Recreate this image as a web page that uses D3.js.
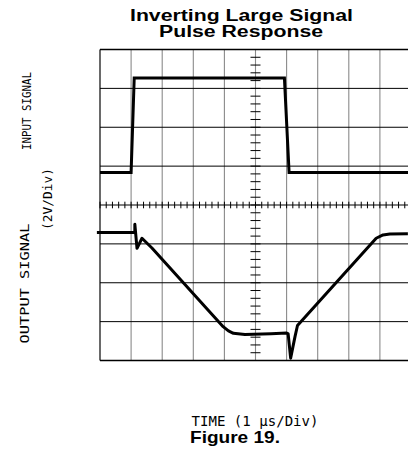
<!DOCTYPE html>
<html>
<head>
<meta charset="utf-8">
<script src="https://cdn.jsdelivr.net/npm/d3@7"></script>
<style>
  html, body { margin: 0; padding: 0; background: #fff; }
  svg { display: block; }
</style>
</head>
<body>
<div id="chart"></div>
<script>
// ---- Data (time in µs, voltage in V; 2 V/div, 1 µs/div) ----
const inputTime  = [0, 1.0, 1.1, 5.93, 6.08, 10];
const inputVolt  = [1.67, 1.67, 6.53, 6.53, 1.67, 1.67];

const outputTime = [-0.1, 1.12, 1.12, 1.19, 1.35, 1.67, 3.96, 4.13, 4.29, 4.66, 5.5, 6.0, 6.05, 6.13, 6.27, 6.35, 8.88, 9.1, 9.32, 9.9];
const outputVolt = [-1.42, -1.42, -0.99, -2.23, -1.71, -2.21, -6.26, -6.48, -6.60, -6.66, -6.62, -6.58, -6.63, -7.88, -6.77, -6.2, -1.71, -1.54, -1.49, -1.48];

const timeDivs  = d3.range(0, 11, 1);       // vertical grid lines
const voltDivs  = d3.range(-8, 10, 2);      // horizontal grid lines
const timeMinor = d3.range(0, 10.01, 0.2);  // minor ticks on centre horizontal axis
const voltMinor = d3.range(-8, 8.01, 0.4);  // minor ticks on centre vertical axis

const titleLines = ["Inverting Large Signal", "Pulse Response"];
const yLabels = ["INPUT SIGNAL", "OUTPUT SIGNAL", "(2V/Div)"];
const xLabel = "TIME (1 \u00b5s/Div)";
const figLabel = "Figure 19.";

// ---- Layout ----
const W = 408, H = 459;
const svg = d3.select("#chart").append("svg").attr("width", W).attr("height", H);

const x = d3.scaleLinear().domain([0, 10]).range([100, 411]);
const y = d3.scaleLinear().domain([-8, 8]).range([360.5, 49.5]);

const g = svg.append("g");

// vertical grid lines (grey)
g.selectAll("line.v").data(timeDivs).join("line")
  .attr("x1", d => x(d)).attr("x2", d => x(d))
  .attr("y1", y(8)).attr("y2", y(-8))
  .attr("stroke", d => d === 0 ? "#444" : "#8a8a8a")
  .attr("stroke-width", d => d === 0 ? 1.6 : 1.1);

// horizontal grid lines (black)
g.selectAll("line.h").data(voltDivs).join("line")
  .attr("x1", x(0)).attr("x2", x(10))
  .attr("y1", d => y(d)).attr("y2", d => y(d))
  .attr("stroke", "#000")
  .attr("stroke-width", d => (d === 8 || d === -8) ? 1.6 : 1);

// centre axes minor ticks
g.selectAll("line.tx").data(timeMinor).join("line")
  .attr("x1", d => x(d)).attr("x2", d => x(d))
  .attr("y1", y(0) - 3.3).attr("y2", y(0) + 3.3)
  .attr("stroke", "#000").attr("stroke-width", 1);

g.selectAll("line.ty").data(voltMinor).join("line")
  .attr("x1", x(5) - 5).attr("x2", x(5) + 5)
  .attr("y1", d => y(d)).attr("y2", d => y(d))
  .attr("stroke", "#000").attr("stroke-width", 1);

// traces
const line = d3.line().x(d => x(d[0])).y(d => y(d[1]));
const inputData = inputTime.map((t, i) => [t, inputVolt[i]]);
const outputData = outputTime.map((t, i) => [t, outputVolt[i]]);

g.append("path").datum(inputData).attr("d", line)
  .attr("fill", "none").attr("stroke", "#000").attr("stroke-width", 3)
  .attr("stroke-linejoin", "miter");

g.append("path").datum(outputData).attr("d", line)
  .attr("fill", "none").attr("stroke", "#000").attr("stroke-width", 3)
  .attr("stroke-linejoin", "round").attr("stroke-linecap", "butt");

// title
const title = svg.append("g").attr("font-family", "Liberation Sans, Arial, sans-serif")
  .attr("font-weight", "bold").attr("text-anchor", "middle").attr("fill", "#000");
title.append("text").attr("x", 241.5).attr("y", 20.5).attr("font-size", 16)
  .attr("textLength", 223).attr("lengthAdjust", "spacingAndGlyphs").text(titleLines[0]);
title.append("text").attr("x", 241).attr("y", 36.5).attr("font-size", 16)
  .attr("textLength", 164).attr("lengthAdjust", "spacingAndGlyphs").text(titleLines[1]);

// axis labels
const mono = "DejaVu Sans Mono, monospace";
const lab = svg.append("g").attr("font-family", mono)
  .attr("fill", "#000").attr("text-anchor", "middle");
lab.append("text").attr("transform", "translate(30.5,111) rotate(-90)")
  .attr("font-size", 12).attr("textLength", 78).attr("lengthAdjust", "spacingAndGlyphs")
  .text(yLabels[0]);
lab.append("text").attr("transform", "translate(28.5,283.5) rotate(-90)")
  .attr("font-size", 12.5).attr("textLength", 120).attr("lengthAdjust", "spacingAndGlyphs")
  .text(yLabels[1]);
lab.append("text").attr("transform", "translate(51.5,199) rotate(-90)")
  .attr("font-size", 12).attr("textLength", 62).attr("lengthAdjust", "spacingAndGlyphs")
  .text(yLabels[2]);

lab.append("text").attr("x", 255).attr("y", 425.5).attr("font-size", 13.5)
  .attr("textLength", 127).attr("lengthAdjust", "spacingAndGlyphs").text(xLabel);
svg.append("text").attr("x", 235).attr("y", 443).attr("font-size", 16.5)
  .attr("font-family", "Liberation Sans, Arial, sans-serif")
  .attr("font-weight", "bold").attr("text-anchor", "middle")
  .attr("textLength", 90).attr("lengthAdjust", "spacingAndGlyphs").text(figLabel);
</script>
</body>
</html>
